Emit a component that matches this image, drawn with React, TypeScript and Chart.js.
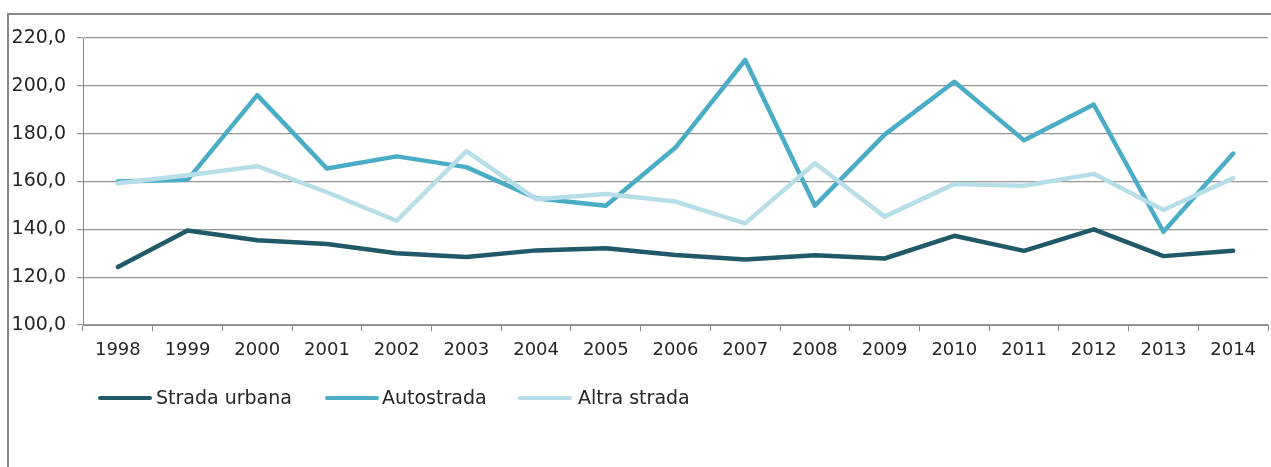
import React, { useEffect, useRef } from "react";
import { Chart, registerables } from "chart.js";

Chart.register(...registerables);

const years = ["1998","1999","2000","2001","2002","2003","2004","2005","2006","2007","2008","2009","2010","2011","2012","2013","2014"];
const stradaUrbana = [124.3,139.5,135.4,133.9,130.0,128.4,131.2,132.1,129.3,127.4,129.2,127.8,137.3,131.0,140.0,128.8,131.0];
const autostrada = [160.0,160.7,196.1,165.4,170.5,166.0,153.0,149.9,174.2,210.8,149.9,179.6,201.7,177.2,192.2,139.0,171.7];
const altraStrada = [159.3,162.6,166.4,155.5,143.6,172.7,152.6,154.8,151.6,142.5,167.6,145.3,159.0,158.2,163.2,148.1,161.4];
const seriesNames = ["Strada urbana", "Autostrada", "Altra strada"];
const seriesColors = ["#215968", "#4BACC6", "#B7DEE8"];

const FONT = "'DejaVu Sans', Verdana, sans-serif";

export default function App() {
  const ref = useRef<HTMLCanvasElement | null>(null);
  useEffect(() => {
    if (!ref.current) return;
    const mk = (label: string, data: number[], color: string, order: number) => ({
      label, data, borderColor: color, backgroundColor: color,
      borderWidth: 4.5, pointRadius: 0, tension: 0, fill: false,
      borderJoinStyle: "round" as const, borderCapStyle: "round" as const, order,
    });
    const chart = new Chart(ref.current, {
      type: "line",
      data: {
        labels: years,
        datasets: [
          mk(seriesNames[0], stradaUrbana, seriesColors[0], 2),
          mk(seriesNames[1], autostrada, seriesColors[1], 1),
          mk(seriesNames[2], altraStrada, seriesColors[2], 0),
        ],
      },
      options: {
        animation: false,
        responsive: false,
        maintainAspectRatio: false,
        layout: { padding: { left: 0, right: 3, top: 38, bottom: 0 } },
        plugins: { legend: { display: false }, tooltip: { enabled: false } },
        scales: {
          x: {
            offset: true,
            grid: { offset: true, drawOnChartArea: false, tickLength: 6, color: "#8c8c8c", lineWidth: 1 },
            border: { color: "#8c8c8c", width: 1 },
            ticks: { font: { family: FONT, size: 18 }, color: "#262626", padding: 9, maxRotation: 0, autoSkip: false },
            afterFit: (s: any) => { s.height = 142; },
          },
          y: {
            min: 100, max: 220,
            grid: { color: "#969696", lineWidth: 1.2, tickLength: 6 },
            border: { color: "#8c8c8c", width: 1 },
            ticks: {
              stepSize: 20,
              font: { family: FONT, size: 19 }, color: "#262626", padding: 11,
              callback: (v: any) => Number(v).toFixed(1).replace(".", ","),
            },
            afterFit: (s: any) => { s.width = 83; },
          },
        },
      },
    });
    return () => chart.destroy();
  }, []);

  const legendItems = [
    { left: 98, textLeft: 156 },
    { left: 325, textLeft: 382 },
    { left: 518, textLeft: 578 },
  ];

  return (
    <div style={{ position: "absolute", left: 0, top: 0, width: 1271, height: 467, background: "#fff", overflow: "hidden" }}>
      <div style={{ position: "absolute", left: 7, top: 13, width: 1271, height: 467, borderTop: "2px solid #878787", borderLeft: "2px solid #878787", boxSizing: "border-box" }} />
      <canvas ref={ref} width={1271} height={467} style={{ position: "absolute", left: 0, top: 0, width: 1271, height: 467 }} />
      {seriesNames.map((name, i) => (
        <React.Fragment key={name}>
          <div style={{ position: "absolute", left: legendItems[i].left, top: 396, width: 54, height: 4, borderRadius: 2, background: seriesColors[i] }} />
          <div style={{ position: "absolute", left: legendItems[i].textLeft, top: 386, fontFamily: FONT, fontSize: 19, lineHeight: "22px", color: "#262626", whiteSpace: "nowrap" }}>{name}</div>
        </React.Fragment>
      ))}
    </div>
  );
}
